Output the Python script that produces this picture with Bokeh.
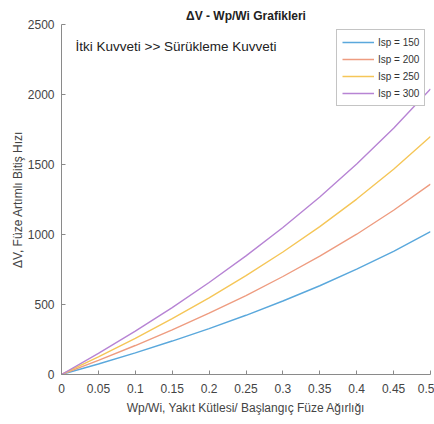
from bokeh.plotting import figure
from bokeh.models import Range1d, FixedTicker, Label, Legend, LegendItem
from bokeh.embed import file_html
from bokeh.resources import INLINE

# Data
mass_ratio = [0, 0.05, 0.1, 0.15, 0.2, 0.25, 0.3, 0.35, 0.4, 0.45, 0.5]
dv_isp150 = [0, 75, 155, 239, 328, 423, 525, 634, 752, 880, 1020]
dv_isp200 = [0, 101, 207, 319, 438, 564, 700, 845, 1002, 1173, 1360]
dv_isp250 = [0, 126, 258, 399, 547, 706, 875, 1056, 1253, 1466, 1700]
dv_isp300 = [0, 151, 310, 478, 657, 847, 1050, 1268, 1503, 1759, 2040]
series_labels = ["Isp = 150", "Isp = 200", "Isp = 250", "Isp = 300"]
series_colors = ["#5aa8dc", "#ee9c80", "#f5c658", "#b784d4"]
x_ticks = [0, 0.05, 0.1, 0.15, 0.2, 0.25, 0.3, 0.35, 0.4, 0.45, 0.5]
x_tick_labels = ["0", "0.05", "0.1", "0.15", "0.2", "0.25", "0.3", "0.35", "0.4", "0.45", "0.5"]
y_ticks = [0, 500, 1000, 1500, 2000, 2500]

FONT = "Liberation Sans"

p = figure(width=434, height=424, output_backend="svg", toolbar_location=None,
           x_range=Range1d(0, 0.5), y_range=Range1d(0, 2500),
           min_border_left=61, min_border_right=4, min_border_top=24, min_border_bottom=50)
p.outline_line_color = None
p.grid.visible = False
p.background_fill_color = "white"
p.border_fill_color = "white"

p.title.text = "ΔV - Wp/Wi Grafikleri"
p.title.align = "center"
p.title.text_font = FONT
p.title.text_font_size = "12px"
p.title.text_font_style = "bold"
p.title.text_color = "#222222"
p.title.standoff = 4

renderers = []
for ys, c in zip([dv_isp150, dv_isp200, dv_isp250, dv_isp300], series_colors):
    r = p.line(mass_ratio, ys, line_color=c, line_width=1.4)
    renderers.append(r)

for ax in (p.xaxis[0], p.yaxis[0]):
    ax.axis_line_color = "#8a8a8a"
    ax.major_tick_line_color = "#8a8a8a"
    ax.major_tick_in = 4
    ax.major_tick_out = 0
    ax.minor_tick_line_color = None
    ax.major_label_text_font = FONT
    ax.major_label_text_font_size = "12px"
    ax.major_label_text_color = "#444444"
    ax.axis_label_text_font = FONT
    ax.axis_label_text_font_size = "12px"
    ax.axis_label_text_font_style = "normal"
    ax.axis_label_text_color = "#444444"

p.xaxis.ticker = FixedTicker(ticks=x_ticks)
p.xaxis.major_label_overrides = {t: s for t, s in zip(x_ticks, x_tick_labels)}
p.xaxis.major_label_standoff = 9
p.xaxis.axis_label = "Wp/Wi, Yakıt Kütlesi/ Başlangıç Füze Ağırlığı"
p.xaxis.axis_label_standoff = 5

p.yaxis.ticker = FixedTicker(ticks=y_ticks)
p.yaxis.major_label_standoff = 7
p.yaxis.axis_label = "ΔV, Füze Artımlı Bitiş Hızı"
p.yaxis.axis_label_standoff = 0

note = Label(x=0.019, y=2345, text="İtki Kuvveti >> Sürükleme Kuvveti", text_font=FONT,
             text_font_size="13.5px", text_color="#222222",
             text_align="left", text_baseline="middle")
p.add_layout(note)

legend = Legend(items=[LegendItem(label=l, renderers=[r]) for l, r in zip(series_labels, renderers)],
                location=(275, 268), border_line_color="#8a8a8a", border_line_width=1,
                background_fill_color="white", background_fill_alpha=1,
                label_text_font=FONT, label_text_font_size="10px", label_text_color="#333333",
                glyph_width=32, glyph_height=14, label_height=14, spacing=3,
                padding=5, margin=0, label_standoff=4)
p.add_layout(legend, "center")

open("out.html", "w").write(file_html(p, INLINE))
